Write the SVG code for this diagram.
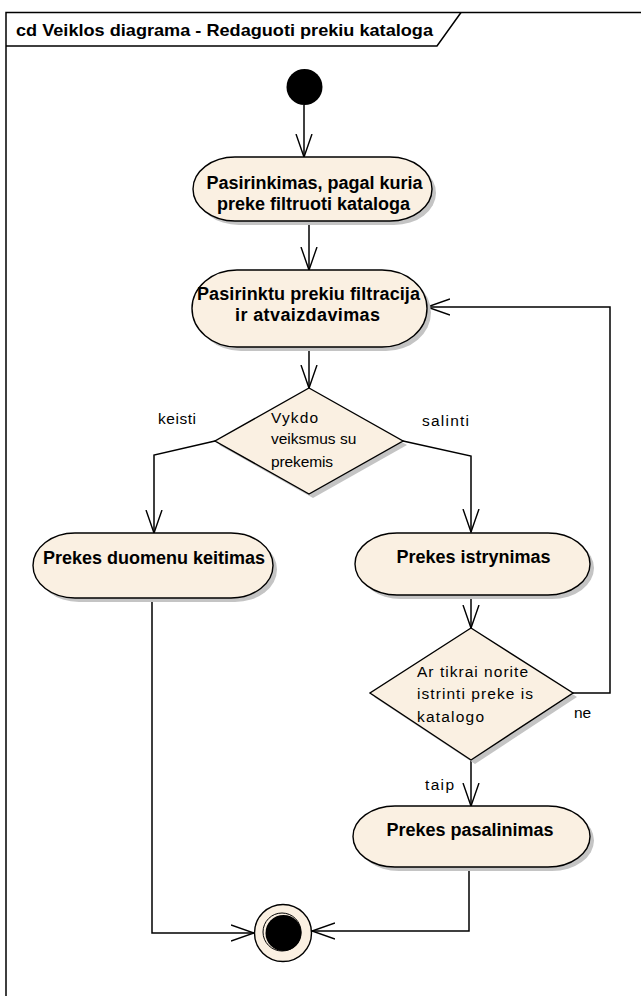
<svg xmlns="http://www.w3.org/2000/svg" width="641" height="996" viewBox="0 0 641 996">
  <defs>
    <marker id="arrow" markerUnits="userSpaceOnUse" markerWidth="26" markerHeight="20" viewBox="0 0 26 20" refX="23" refY="10" orient="auto">
      <path d="M0,2 L23,10 L0,18" fill="none" stroke="#000" stroke-width="1.4"/>
    </marker>
  </defs>
  <style>
    .frame { fill: none; stroke: #000; stroke-width: 1.5; }
    .node { fill: #FAF0E2; stroke: #000; stroke-width: 1.4; }
    .shadow { fill: #C4C4C4; stroke: none; }
    .edge { fill: none; stroke: #000; stroke-width: 1.5; marker-end: url(#arrow); }
    .title { font-family: "Liberation Sans", Arial, sans-serif; font-weight: bold; font-size: 16.5px; fill: #000; }
    .act { font-family: "Liberation Sans", Arial, sans-serif; font-weight: bold; font-size: 18px; fill: #000; text-anchor: middle; }
    .lbl { font-family: "Liberation Sans", Arial, sans-serif; font-size: 15.5px; fill: #000; }
  </style>

  <!-- diagram frame with name tab -->
  <g id="frame">
    <path class="frame" d="M6,996 V12.5 H641"/>
    <path class="frame" d="M6,46 H437 L461,12.5"/>
    <text class="title" x="16" y="36" textLength="417" lengthAdjust="spacingAndGlyphs">cd Veiklos diagrama - Redaguoti prekiu kataloga</text>
  </g>

  <!-- connectors -->
  <g id="connectors">
    <path class="edge" d="M304,105 V157"/>
    <path class="edge" d="M309,221 V270"/>
    <path class="edge" d="M309,347 V388"/>
    <path class="edge" d="M215,441 L154,455 V533"/>
    <path class="edge" d="M403,441 L471,456 V532"/>
    <path class="edge" d="M471,595 V628"/>
    <path class="edge" d="M573,693 H610 V307 H427"/>
    <path class="edge" d="M471,760 V806"/>
    <path class="edge" d="M152,598 V933 H254"/>
    <path class="edge" d="M469,867 V931 H312"/>
    <text class="lbl" x="158" y="424" textLength="38" lengthAdjust="spacing">keisti</text>
    <text class="lbl" x="422" y="426" textLength="47" lengthAdjust="spacing">salinti</text>
    <text class="lbl" x="574" y="718">ne</text>
    <text class="lbl" x="425" y="790" textLength="29" lengthAdjust="spacing">taip</text>
  </g>

  <!-- initial node -->
  <g id="start">
    <circle cx="304.5" cy="87" r="18" fill="#000"/>
  </g>

  <!-- activities -->
  <g id="a1">
    <rect class="shadow" x="197" y="161" width="239" height="64" rx="42" ry="32"/>
    <rect class="node" x="193" y="157" width="239" height="64" rx="42" ry="32"/>
    <text class="act" x="314.5" y="189">Pasirinkimas, pagal kuria</text>
    <text class="act" x="313.5" y="210">preke filtruoti kataloga</text>
  </g>

  <g id="a2">
    <rect class="shadow" x="196" y="274" width="235" height="77" rx="45" ry="38.5"/>
    <rect class="node" x="192" y="270" width="235" height="77" rx="45" ry="38.5"/>
    <text class="act" x="308.5" y="300" textLength="223" lengthAdjust="spacing">Pasirinktu prekiu filtracija</text>
    <text class="act" x="307.5" y="321" textLength="145" lengthAdjust="spacing">ir atvaizdavimas</text>
  </g>

  <g id="d1">
    <polygon class="shadow" points="313,392 407,445 313,498 219,445"/>
    <polygon class="node" points="309,388 403,441 309,494 215,441"/>
    <text class="lbl" x="271" y="423" textLength="47" lengthAdjust="spacing">Vykdo</text>
    <text class="lbl" x="271" y="444">veiksmus su</text>
    <text class="lbl" x="271" y="467" textLength="62" lengthAdjust="spacing">prekemis</text>
  </g>

  <g id="a3">
    <rect class="shadow" x="37" y="537" width="240" height="65" rx="42" ry="32.5"/>
    <rect class="node" x="33" y="533" width="240" height="65" rx="42" ry="32.5"/>
    <text class="act" x="154" y="564">Prekes duomenu keitimas</text>
  </g>

  <g id="a4">
    <rect class="shadow" x="359" y="537" width="235" height="62" rx="42" ry="31"/>
    <rect class="node" x="355" y="533" width="235" height="62" rx="42" ry="31"/>
    <text class="act" x="473.5" y="563">Prekes istrynimas</text>
  </g>

  <g id="d2">
    <polygon class="shadow" points="475,632 577,697 475,764 374,697"/>
    <polygon class="node" points="471,628 573,693 471,760 370,693"/>
    <text class="lbl" x="417" y="677" textLength="111" lengthAdjust="spacing">Ar tikrai norite</text>
    <text class="lbl" x="417" y="699" textLength="116" lengthAdjust="spacing">istrinti preke is</text>
    <text class="lbl" x="417" y="722" textLength="67" lengthAdjust="spacing">katalogo</text>
  </g>

  <g id="a5">
    <rect class="shadow" x="357" y="810" width="237" height="61" rx="42" ry="30.5"/>
    <rect class="node" x="353" y="806" width="237" height="61" rx="42" ry="30.5"/>
    <text class="act" x="470" y="836">Prekes pasalinimas</text>
  </g>

  <!-- final node -->
  <g id="end">
    <circle class="node" cx="283" cy="933" r="28.5"/>
    <circle cx="282" cy="932" r="19" fill="none" stroke="#000" stroke-width="1"/>
    <circle cx="283.5" cy="933" r="18" fill="#000"/>
  </g>
</svg>
